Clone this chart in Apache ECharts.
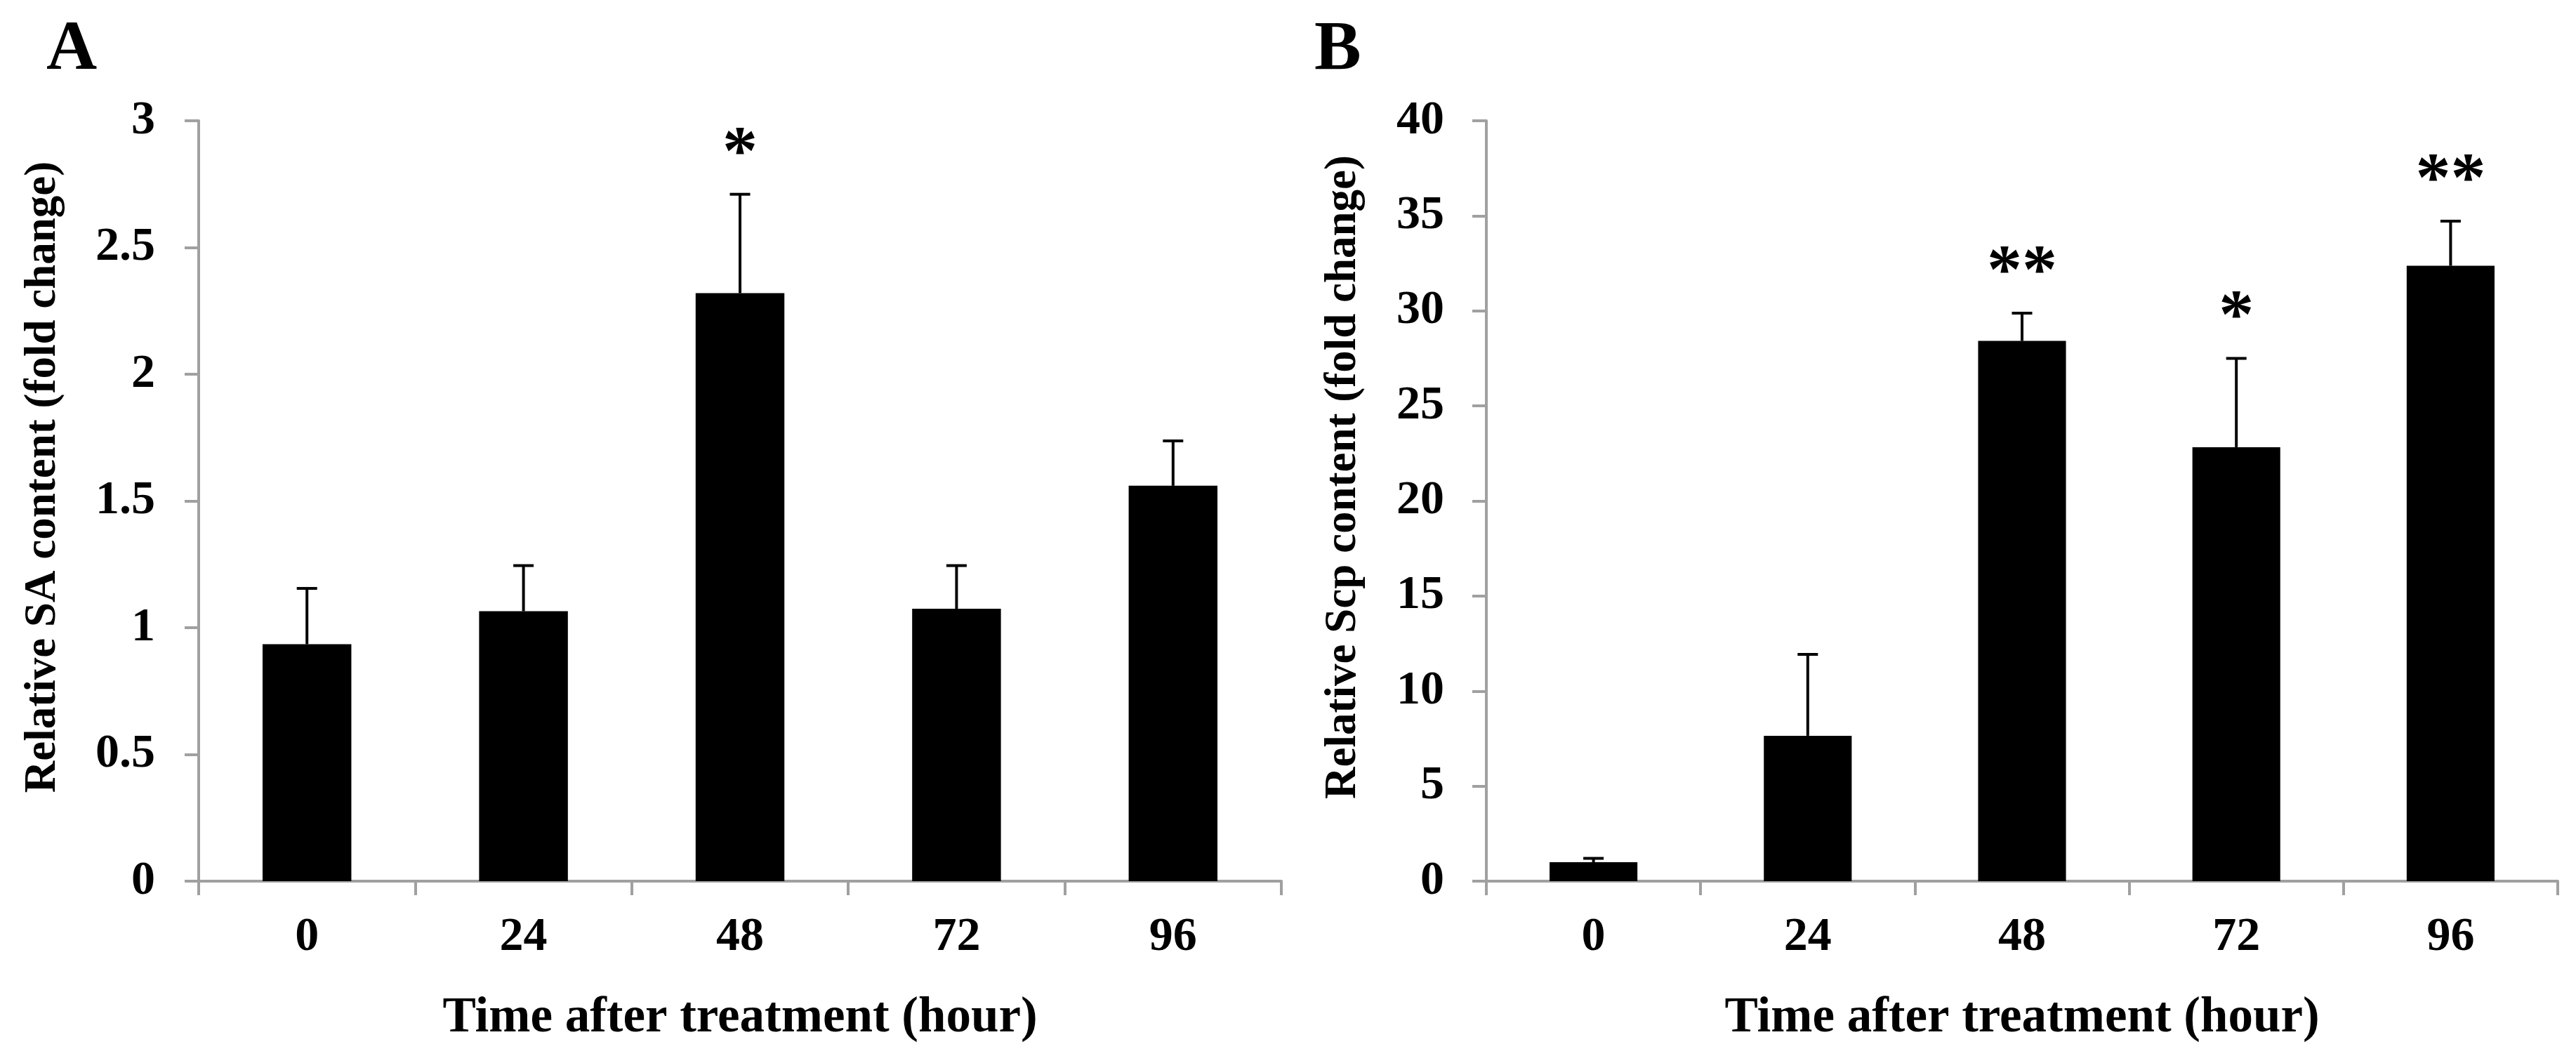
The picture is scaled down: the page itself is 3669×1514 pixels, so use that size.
<!DOCTYPE html>
<html>
<head>
<meta charset="utf-8">
<script src="https://cdn.jsdelivr.net/npm/echarts@6/dist/echarts.min.js"></script>
<style>
html,body{margin:0;padding:0;background:#fff;}
#chart{width:3669px;height:1514px;}
</style>
</head>
<body>
<div id="chart"></div>
<script>
// ---- data ----
const hours = ['0', '24', '48', '72', '96'];
const saMean = [0.935, 1.065, 2.32, 1.075, 1.56];
const saErr  = [0.22, 0.18, 0.39, 0.17, 0.177];
const saSig  = ['', '', '*', '', ''];
const scpMean = [1.0, 7.65, 28.42, 22.83, 32.37];
const scpErr  = [0.2, 4.28, 1.46, 4.67, 2.35];
const scpSig  = ['', '', '**', '*', '**'];
const saTicks = {min: 0, max: 3, interval: 0.5};
const scpTicks = {min: 0, max: 40, interval: 5};

const FONT = '"Liberation Serif", "Times New Roman", serif';
const AXIS_GREY = '#a0a0a0';

function errSeries(idx, means, errs, sigs) {
  return {
    type: 'custom',
    xAxisIndex: idx, yAxisIndex: idx,
    z: 5,
    data: means.map((m, i) => [i, m, errs[i]]),
    renderItem: function (params, api) {
      const x = api.value(0), m = api.value(1), e = api.value(2);
      const base = api.coord([x, m]);
      const top = api.coord([x, m + e]);
      const half = 14.5;
      const children = [
        {type: 'line', shape: {x1: base[0], y1: base[1], x2: top[0], y2: top[1]},
         style: {stroke: '#000', lineWidth: 4}},
        {type: 'line', shape: {x1: top[0] - half, y1: top[1], x2: top[0] + half, y2: top[1]},
         style: {stroke: '#000', lineWidth: 4}}
      ];
      const s = sigs[params.dataIndex];
      if (s) {
        children.push({type: 'text', style: {
          text: s, x: top[0], y: top[1] - 56,
          align: 'center', verticalAlign: 'middle',
          fontSize: 100, fontWeight: 'bold', fontFamily: FONT, fill: '#000'
        }});
      }
      return {type: 'group', children: children};
    }
  };
}

function xAxisCfg(idx) {
  return {
    gridIndex: idx, type: 'category', data: hours,
    axisLine: {show: true, lineStyle: {color: AXIS_GREY, width: 4}},
    axisTick: {show: true, alignWithLabel: false, length: 20, lineStyle: {color: AXIS_GREY, width: 4}},
    axisLabel: {color: '#000', fontSize: 68, fontWeight: 'bold', fontFamily: FONT, margin: 46},
    splitLine: {show: false},
    name: 'Time after treatment (hour)', nameLocation: 'middle', nameGap: 160,
    nameTextStyle: {color: '#000', fontSize: 71, fontWeight: 'bold', fontFamily: FONT}
  };
}

function yAxisCfg(idx, ticks, name, margin, gap) {
  return {
    gridIndex: idx, type: 'value', min: ticks.min, max: ticks.max, interval: ticks.interval,
    axisLine: {show: true, lineStyle: {color: AXIS_GREY, width: 4}},
    axisTick: {show: true, length: 20, lineStyle: {color: AXIS_GREY, width: 4}},
    axisLabel: {color: '#000', fontSize: 68, fontWeight: 'bold', fontFamily: FONT, margin: margin},
    splitLine: {show: false},
    name: name, nameLocation: 'middle', nameGap: gap, nameRotate: 90,
    nameTextStyle: {color: '#000', fontSize: 63, fontWeight: 'bold', fontFamily: FONT,
                    padding: [0, 0, 0, 68]}
  };
}

const chart = echarts.init(document.getElementById('chart'), null, {renderer: 'canvas'});
chart.setOption({
  backgroundColor: '#fff',
  animation: false,
  title: [
    {text: 'A', left: 66, top: 22, padding: 0,
     textStyle: {fontSize: 100, fontWeight: 'bold', fontFamily: FONT, color: '#000'}},
    {text: 'B', left: 1872, top: 22, padding: 0,
     textStyle: {fontSize: 100, fontWeight: 'bold', fontFamily: FONT, color: '#000'}}
  ],
  grid: [
    {left: 283, top: 172, width: 1542, height: 1083},
    {left: 2117, top: 172, width: 1526, height: 1083}
  ],
  xAxis: [xAxisCfg(0), xAxisCfg(1)],
  yAxis: [
    yAxisCfg(0, saTicks, 'Relative SA content (fold change)', 62, 190),
    yAxisCfg(1, scpTicks, 'Relative Scp content (fold change)', 60, 172)
  ],
  series: [
    {type: 'bar', xAxisIndex: 0, yAxisIndex: 0, data: saMean, barWidth: '41%',
     itemStyle: {color: '#000'}},
    {type: 'bar', xAxisIndex: 1, yAxisIndex: 1, data: scpMean, barWidth: '41%',
     itemStyle: {color: '#000'}},
    errSeries(0, saMean, saErr, saSig),
    errSeries(1, scpMean, scpErr, scpSig)
  ]
});
</script>
</body>
</html>
